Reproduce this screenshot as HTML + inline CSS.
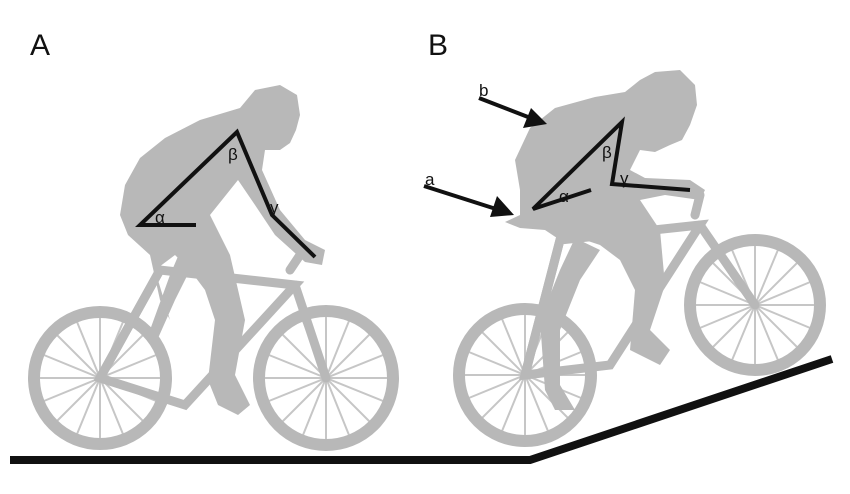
<!DOCTYPE html>
<html><head><meta charset="utf-8"><style>
html,body{margin:0;padding:0;background:#fff;}
svg{display:block;}
</style></head><body>
<svg width="850" height="494" viewBox="0 0 850 494" xmlns="http://www.w3.org/2000/svg" font-family="Liberation Sans, sans-serif">
<g fill="none" stroke="#b8b8b8">
  <circle cx="100" cy="378" r="66" stroke-width="12"/>
  <circle cx="326" cy="378" r="67" stroke-width="12"/>
  <g stroke-width="2" opacity="0.8">
    <path d="M100 312V444M34 378H166M53 331L147 425M147 331L53 425M75 317L125 439M125 317L75 439M39 353L161 403M39 403L161 353"/>
    <path d="M326 311V445M259 378H393M279 331L373 425M373 331L279 425M301 316L351 440M351 316L301 440M264 353L388 403M264 403L388 353"/>
  </g>
  <g stroke-width="9" stroke-linecap="round">
    <path d="M100 378L185 405L295 285L160 270Z"/>
    <path d="M100 378L160 270M295 285L326 378M290 270L300 255"/>
  </g>
  <circle cx="525" cy="375" r="66" stroke-width="12"/>
  <circle cx="755" cy="305" r="65" stroke-width="12"/>
  <g stroke-width="2" opacity="0.8">
    <path d="M525 309V441M459 375H591M478 328L572 422M572 328L478 422M500 314L550 436M550 314L500 436M464 350L586 400M464 400L586 350"/>
    <path d="M755 240V370M690 305H820M709 259L801 351M801 259L709 351M730 245L780 365M780 245L730 365M695 280L815 330M695 330L815 280"/>
  </g>
  <g stroke-width="9" stroke-linecap="round">
    <path d="M525 375L610 365L700 225L560 240Z"/>
    <path d="M525 375L560 240M700 225L755 305M695 215L700 195"/>
  </g>
</g>
<g fill="#b8b8b8">
  <path d="M255 90L280 85L297 95L300 115L296 130L290 143L280 150L265 150L262 170L280 210L305 240L325 250L322 265L305 262L275 235L255 205L238 180L210 215L230 255L245 320L235 375L250 405L238 415L218 405L208 380L215 320L205 290L190 270L175 255L155 270L170 320L160 300L150 255L128 235L120 215L125 185L140 158L165 138L200 120L240 108Z"/>
  <path d="M200 220L185 240L170 275L150 330L155 345L175 300L195 260L205 235Z"/>
  <path d="M655 72L680 70L695 85L697 105L690 125L682 140L670 145L655 152L640 150L630 170L645 178L690 180L705 190L700 200L665 195L640 200L660 230L665 285L650 330L670 350L660 365L630 350L635 290L620 260L600 245L570 235L560 240L545 230L520 228L505 222L520 215L520 190L515 160L530 128L555 108L595 97L625 92L640 80Z"/>
  <path d="M575 238L560 270L540 320L545 390L555 410L575 410L560 385L560 330L580 280L600 250Z"/>
</g>
<path d="M10 460H530L832 359" fill="none" stroke="#111" stroke-width="8"/>
<g fill="none" stroke="#111" stroke-width="4" stroke-linejoin="miter">
  <path d="M196 225H140L237 132L272 215L315 257"/>
  <path d="M591 190L533 209L622 122L612 184L690 190"/>
</g>
<g fill="#111" font-size="17">
  <text x="155" y="223">α</text>
  <text x="228" y="160">β</text>
  <text x="270" y="213">γ</text>
  <text x="559" y="202">α</text>
  <text x="602" y="158">β</text>
  <text x="620" y="184">γ</text>
</g>
<g stroke="#111" stroke-width="4">
  <line x1="479" y1="98" x2="528" y2="117"/>
  <line x1="424" y1="186" x2="496" y2="209"/>
</g>
<g fill="#111">
  <polygon points="547,124 523,128 531,108"/>
  <polygon points="514,215 490,217 497,196"/>
</g>
<g fill="#111" font-size="17">
  <text x="479" y="96">b</text>
  <text x="425" y="185">a</text>
</g>
<g fill="#111" font-size="30">
  <text x="30" y="55">A</text>
  <text x="428" y="55">B</text>
</g>
</svg>
</body></html>
